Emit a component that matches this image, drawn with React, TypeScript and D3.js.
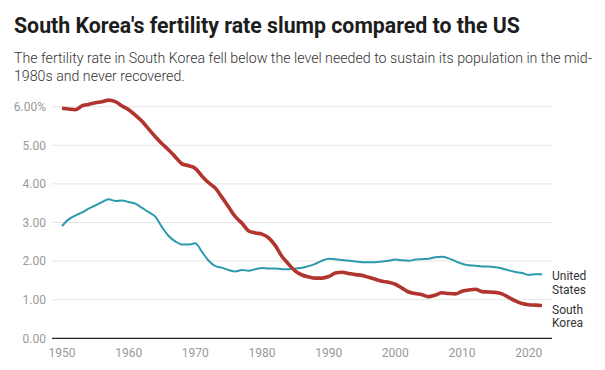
import React from "react";
import * as d3 from "d3";

const width = 605;
const height = 370;
const margin = { top: 106.7, right: 53, bottom: 31.7, left: 52 };

const years = d3.range(1950, 2023);

// South Korea, total fertility rate (births per woman)
const korea = [
  5.96, 5.94, 5.92, 6.02, 6.06, 6.1, 6.13, 6.17, 6.13, 6.02,
  5.92, 5.78, 5.62, 5.42, 5.22, 5.04, 4.88, 4.7, 4.52, 4.47,
  4.4, 4.2, 4.03, 3.89, 3.65, 3.4, 3.15, 2.98, 2.78, 2.73,
  2.7, 2.6, 2.4, 2.12, 1.92, 1.74, 1.64, 1.59, 1.56, 1.56,
  1.6, 1.69, 1.71, 1.68, 1.65, 1.63, 1.58, 1.53, 1.48, 1.45,
  1.4, 1.3, 1.2, 1.16, 1.13, 1.08, 1.12, 1.18, 1.16, 1.15,
  1.22, 1.25, 1.27, 1.21, 1.2, 1.19, 1.15, 1.06, 0.97, 0.9,
  0.87, 0.86, 0.85
];

// United States
const us = [
  2.91, 3.08, 3.18, 3.26, 3.36, 3.44, 3.53, 3.6, 3.56, 3.57,
  3.53, 3.49, 3.38, 3.27, 3.15, 2.88, 2.65, 2.51, 2.43, 2.43,
  2.46, 2.24, 2.01, 1.87, 1.83, 1.77, 1.73, 1.77, 1.75, 1.79,
  1.82, 1.81, 1.81, 1.79, 1.79, 1.81, 1.83, 1.87, 1.93, 2.01,
  2.06, 2.05, 2.03, 2.01, 1.99, 1.97, 1.97, 1.97, 1.99, 2.01,
  2.04, 2.02, 2.01, 2.04, 2.05, 2.06, 2.1, 2.11, 2.07, 2.0,
  1.93, 1.89, 1.88, 1.86, 1.86, 1.84, 1.81, 1.76, 1.72, 1.69,
  1.64, 1.66, 1.66
];

const yTicks = [0, 1, 2, 3, 4, 5, 6];
const xTicks = [1950, 1960, 1970, 1980, 1990, 2000, 2010, 2020];

const font = "Roboto, 'Noto Sans', sans-serif";

const App = () => {
  const x = d3
    .scaleLinear()
    .domain([1948.5, 2023.5])
    .range([margin.left, width - margin.right]);
  const y = d3
    .scaleLinear()
    .domain([0, 6])
    .range([height - margin.bottom, margin.top]);

  const line = d3
    .line<number>()
    .x((d, i) => x(years[i]))
    .y((d) => y(d))
    .curve(d3.curveMonotoneX);

  const lastYear = years[years.length - 1];
  const labelX = x(lastYear) + 10;

  return (
    <svg
      width={width}
      height={height}
      style={{ position: "absolute", left: 0, top: 0, background: "#fff" }}
      fontFamily={font}
    >
      <text x={14} y={33} fontSize={21.3} fontWeight={700} fill="#1d1d1d">
        South Korea's fertility rate slump compared to the US
      </text>
      <text x={14} y={63} fontSize={14.2} fontWeight={300} fill="#333">
        The fertility rate in South Korea fell below the level needed to sustain its population in the mid-
      </text>
      <text x={14} y={81} fontSize={14.2} fontWeight={300} fill="#333">
        1980s and never recovered.
      </text>

      {yTicks.map((t) => (
        <g key={t}>
          {t > 0 && (
            <line
              x1={margin.left}
              x2={width - margin.right}
              y1={y(t)}
              y2={y(t)}
              stroke="#e5e5e5"
            />
          )}
          <text
            x={46}
            y={y(t)}
            dy="0.35em"
            textAnchor="end"
            fontSize={12}
            fill="#999"
          >
            {t.toFixed(2) + (t === 6 ? "%" : "")}
          </text>
        </g>
      ))}

      <line
        x1={margin.left}
        x2={width - margin.right}
        y1={y(0)}
        y2={y(0)}
        stroke="#222"
        strokeWidth={1.2}
      />

      {xTicks.map((t) => (
        <text
          key={t}
          x={x(t)}
          y={y(0) + 14}
          dy="0.35em"
          textAnchor="middle"
          fontSize={12}
          fill="#999"
        >
          {t}
        </text>
      ))}

      <path d={line(us) ?? ""} fill="none" stroke="#2b99ae" strokeWidth={2} />
      <path d={line(korea) ?? ""} fill="none" stroke="#b2342f" strokeWidth={3.6} />

      <text y={y(us[us.length - 1]) + 2} fontSize={12} fill="#333">
        <tspan x={labelX} dy="0.35em">United</tspan>
        <tspan x={labelX} dy="1.1em">States</tspan>
      </text>
      <text y={y(korea[korea.length - 1]) + 4} fontSize={12} fill="#333">
        <tspan x={labelX} dy="0.35em">South</tspan>
        <tspan x={labelX} dy="1.1em">Korea</tspan>
      </text>
    </svg>
  );
};

export default App;
